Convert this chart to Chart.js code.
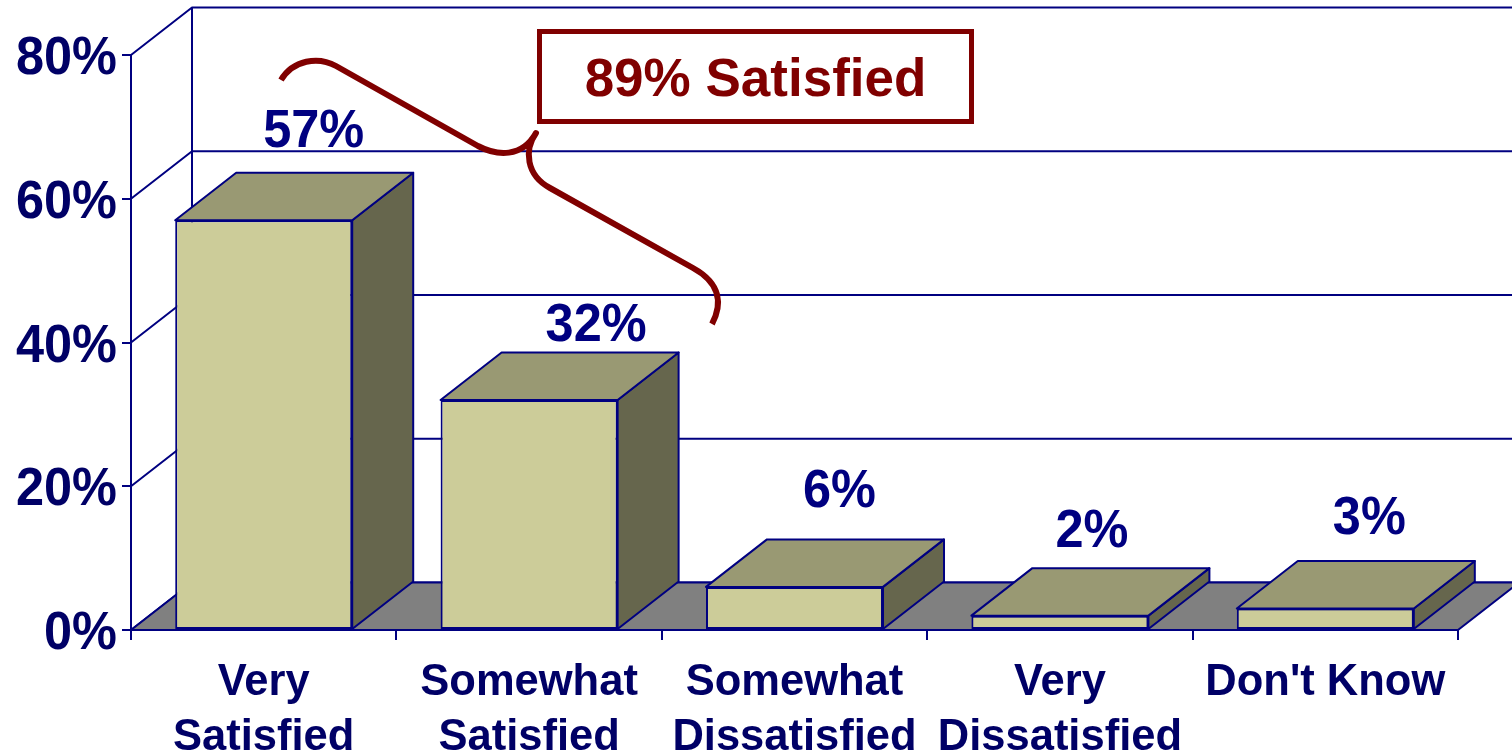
<!DOCTYPE html>
<html lang="en">
<head>
    <meta charset="UTF-8">
    <title>Satisfaction</title>
    <style>
        body { margin: 0; background: white; overflow: hidden; }
        canvas { display: block; }
    </style>
    <script src="https://cdn.jsdelivr.net/npm/chart.js"></script>
</head>
<body>
    <canvas id="chart" width="1512" height="753"></canvas>
    <script>
        var categories = [
            ['Very', 'Satisfied'],
            ['Somewhat', 'Satisfied'],
            ['Somewhat', 'Dissatisfied'],
            ['Very', 'Dissatisfied'],
            "Don't Know"
        ];
        var percents = [57, 32, 6, 2, 3];
        var callout = '89% Satisfied';

        var NAVY = '#000080';
        var AXIS_TEXT = '#000066';
        var MAROON = '#800000';
        var DEPTH_X = 61;
        var DEPTH_Y = 47.5;
        // the labels were placed by hand in the original, relative to the bar's front top edge
        var labelNudge = [[50, -73], [67, -59], [45, -80], [32, -69], [44, -74]];

        function poly(ctx, pts, fill) {
            ctx.beginPath();
            ctx.moveTo(pts[0][0], pts[0][1]);
            for (var i = 1; i < pts.length; i++) ctx.lineTo(pts[i][0], pts[i][1]);
            ctx.closePath();
            if (fill) {
                ctx.fillStyle = fill;
                ctx.fill();
            }
            ctx.stroke();
        }

        // big labels are slightly narrower than the font in the original
        function squeezedText(ctx, text, x, y, align) {
            ctx.save();
            ctx.translate(x, y);
            ctx.scale(0.935, 1);
            ctx.textAlign = align;
            ctx.textBaseline = 'alphabetic';
            ctx.font = 'bold 54px "Liberation Sans"';
            ctx.fillText(text, 0, 0);
            ctx.restore();
        }

        // back wall, left wall lines and floor
        var wallPlugin = {
            id: 'wall',
            beforeDatasetsDraw: function (chart) {
                var ctx = chart.ctx, y = chart.scales.y, area = chart.chartArea;
                var right = area.right + DEPTH_X;
                ctx.save();
                ctx.strokeStyle = NAVY;
                ctx.lineWidth = 2;
                ctx.lineJoin = 'round';
                y.ticks.forEach(function (t) {
                    var py = y.getPixelForValue(t.value);
                    ctx.beginPath();
                    ctx.moveTo(area.left, py);
                    ctx.lineTo(area.left + DEPTH_X, py - DEPTH_Y);
                    ctx.lineTo(right, py - DEPTH_Y);
                    ctx.stroke();
                });
                ctx.beginPath();
                ctx.moveTo(area.left + DEPTH_X, area.top - DEPTH_Y);
                ctx.lineTo(area.left + DEPTH_X, area.bottom - DEPTH_Y);
                ctx.stroke();
                poly(ctx, [
                    [area.left, area.bottom],
                    [area.left + DEPTH_X, area.bottom - DEPTH_Y],
                    [right, area.bottom - DEPTH_Y],
                    [area.right, area.bottom]
                ], '#808080');

                // top and side faces of each bar, front faces come from Chart.js
                chart.getDatasetMeta(0).data.forEach(function (bar) {
                    var l = bar.x - bar.width / 2, r = bar.x + bar.width / 2;
                    poly(ctx, [[r, bar.base], [r + DEPTH_X, bar.base - DEPTH_Y], [r + DEPTH_X, bar.y - DEPTH_Y], [r, bar.y]], '#66664D');
                    poly(ctx, [[l, bar.y], [l + DEPTH_X, bar.y - DEPTH_Y], [r + DEPTH_X, bar.y - DEPTH_Y], [r, bar.y]], '#999973');
                });
                ctx.restore();
            }
        };

        var annotationPlugin = {
            id: 'notes',
            afterDatasetsDraw: function (chart) {
                var ctx = chart.ctx, y = chart.scales.y;
                ctx.save();

                // y axis labels
                ctx.fillStyle = AXIS_TEXT;
                y.ticks.forEach(function (t) {
                    squeezedText(ctx, t.value + '%', y.right - 14, y.getPixelForValue(t.value) + 19, 'right');
                });

                // value labels
                ctx.fillStyle = NAVY;
                chart.getDatasetMeta(0).data.forEach(function (bar, i) {
                    squeezedText(ctx, percents[i] + '%', bar.x + labelNudge[i][0], bar.y + labelNudge[i][1], 'center');
                });

                // callout box
                ctx.textAlign = 'center';
                ctx.textBaseline = 'alphabetic';
                ctx.strokeStyle = MAROON;
                ctx.lineWidth = 5;
                ctx.strokeRect(539.5, 31.5, 432, 90);
                ctx.font = 'bold 53px "Liberation Sans"';
                ctx.fillStyle = MAROON;
                ctx.fillText(callout, 755.5, 96);

                // brace
                ctx.lineWidth = 6;
                ctx.lineJoin = 'round';
                ctx.beginPath();
                ctx.moveTo(281, 80);
                ctx.bezierCurveTo(293, 60, 318, 56, 336, 66);
                ctx.lineTo(478, 146);
                ctx.bezierCurveTo(497, 156, 522, 158, 536, 133);
                ctx.bezierCurveTo(524, 150, 526, 175, 550, 188);
                ctx.lineTo(693, 268);
                ctx.bezierCurveTo(722, 284, 722, 305, 712, 324);
                ctx.stroke();
                ctx.restore();
            }
        };

        new Chart(document.getElementById('chart'), {
            type: 'bar',
            data: {
                labels: categories,
                datasets: [{
                    data: percents,
                    backgroundColor: '#CCCC99',
                    borderColor: NAVY,
                    borderWidth: 2,
                    borderSkipped: false,
                    barPercentage: 0.667,
                    categoryPercentage: 1
                }]
            },
            options: {
                responsive: false,
                animation: false,
                layout: { padding: { top: 55, right: 54, left: 0, bottom: 0 } },
                plugins: { legend: { display: false }, tooltip: { enabled: false } },
                scales: {
                    x: {
                        afterFit: function (s) { s.height = 123; },
                        border: { color: NAVY, width: 2 },
                        grid: { drawOnChartArea: false, color: NAVY, lineWidth: 2, tickLength: 10 },
                        ticks: {
                            color: AXIS_TEXT,
                            maxRotation: 0,
                            autoSkip: false,
                            padding: 16,
                            font: { family: '"Liberation Sans"', size: 43.5, weight: 'bold', lineHeight: 1.264 }
                        }
                    },
                    y: {
                        min: 0,
                        max: 80,
                        afterFit: function (s) { s.width = 131; },
                        border: { color: NAVY, width: 2 },
                        grid: { drawOnChartArea: false, color: NAVY, lineWidth: 2, tickLength: 9 },
                        ticks: {
                            stepSize: 20,
                            color: AXIS_TEXT,
                            display: false
                        }
                    }
                }
            },
            plugins: [wallPlugin, annotationPlugin]
        });
    </script>
</body>
</html>
